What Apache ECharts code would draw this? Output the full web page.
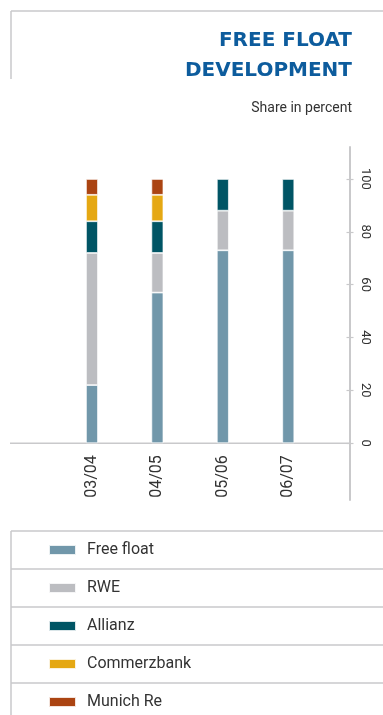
<!DOCTYPE html>
<html>
<head>
<meta charset="utf-8">
<script src="https://cdn.jsdelivr.net/npm/echarts@6/dist/echarts.min.js"></script>
<style>
html,body{margin:0;padding:0;background:#fff;}
#chart{width:383px;height:715px;}
</style>
</head>
<body>
<div id="chart"></div>
<script>
// ---- data ----
const categories = ['03/04', '04/05', '05/06', '06/07'];
const freeFloat   = [22, 57, 73, 73];
const rwe         = [50, 15, 15, 15];
const allianz     = [12, 12, 12, 12];
const commerzbank = [10, 10, 0, 0];
const munichRe    = [6, 6, 0, 0];
const valueTicks  = [0, 20, 40, 60, 80, 100];
const seriesNames = ['Free float', 'RWE', 'Allianz', 'Commerzbank', 'Munich Re'];
const seriesColors = ['#7197aa', '#bcbdc1', '#005565', '#e5a813', '#ab4412'];
const seriesValues = [freeFloat, rwe, allianz, commerzbank, munichRe];

const chart = echarts.init(document.getElementById('chart'));
const lineColor = '#c9c9cb';
const font = 'Roboto, sans-serif';
const gridTop = 147, gridBottom = 215;

const series = seriesNames.map((name, k) => ({
  name: name,
  type: 'bar',
  stack: 'total',
  barWidth: 12,
  itemStyle: { color: seriesColors[k], borderColor: 'rgba(255,255,255,0.85)', borderWidth: 0.8 },
  data: seriesValues[k].map(v => (v === 0 ? '-' : v))
}));

const hLine = (x1, x2, y) => ({ type: 'line', shape: { x1: x1, y1: y, x2: x2, y2: y }, style: { stroke: lineColor, lineWidth: 1.5 }, silent: true });
const vLine = (x, y1, y2) => ({ type: 'line', shape: { x1: x, y1: y1, x2: x, y2: y2 }, style: { stroke: lineColor, lineWidth: 1.5 }, silent: true });
const titleText = (t, y) => ({ type: 'text', style: { text: t, x: 352, y: y, align: 'right', verticalAlign: 'middle', fill: '#0d5c9d', font: 'bold 20px "DejaVu Sans", sans-serif' }, silent: true });

chart.setOption({
  animation: false,
  textStyle: { fontFamily: font },
  grid: { left: 59.25, right: 62, top: gridTop, bottom: gridBottom, containLabel: false },
  xAxis: {
    type: 'category',
    data: categories,
    axisLine: { show: false, onZero: false },
    axisTick: { show: false },
    axisLabel: { rotate: 90, margin: 12, fontSize: 16, color: '#333', fontFamily: font }
  },
  yAxis: [
    {
      type: 'value',
      position: 'right',
      offset: 29,
      min: -21.5, max: 112.1,
      splitLine: { show: false },
      axisLine: { show: true, onZero: false, lineStyle: { color: lineColor, width: 2 } },
      axisTick: { show: true, customValues: valueTicks, length: 3.5, lineStyle: { color: lineColor, width: 1.2 } },
      axisLabel: { customValues: valueTicks, rotate: -90, margin: 9, fontSize: 13, color: '#333', fontFamily: font }
    },
    {
      type: 'value',
      position: 'right',
      offset: 29,
      min: -21.5, max: 112.1,
      splitLine: { show: false },
      axisLine: { show: false, onZero: false },
      axisTick: { show: true, inside: true, customValues: valueTicks, length: 3.5, lineStyle: { color: lineColor, width: 1.2 } },
      axisLabel: { show: false }
    }
  ],
  legend: {
    data: seriesNames,
    orient: 'vertical',
    left: 48, top: 542,
    padding: 0,
    itemWidth: 27, itemHeight: 10,
    itemGap: 22,
    icon: 'rect',
    selectedMode: false,
    textStyle: { fontSize: 16, lineHeight: 16, color: '#333', fontFamily: font, padding: [0, 0, 0, 6] }
  },
  series: series
});

// Baseline at value 0, located through the library's scale; move category labels there
const y0 = chart.convertToPixel({ yAxisIndex: 0 }, 0);
const bottomEdge = 715 - gridBottom;
chart.setOption({
  xAxis: { offset: -(bottomEdge - y0) },
  graphic: [
    hLine(11, 383, 11), vLine(11, 11, 79),
    titleText('FREE FLOAT', 41), titleText('DEVELOPMENT', 71),
    { type: 'text', style: { text: 'Share in percent', x: 352, y: 108, align: 'right', verticalAlign: 'middle', fill: '#333', font: '14px Roboto, sans-serif' }, silent: true },
    hLine(10, 350, y0),
    hLine(11, 383, 531), hLine(11, 383, 569), hLine(11, 383, 607), hLine(11, 383, 645), hLine(11, 383, 683),
    vLine(11, 531, 715)
  ]
});
</script>
</body>
</html>
